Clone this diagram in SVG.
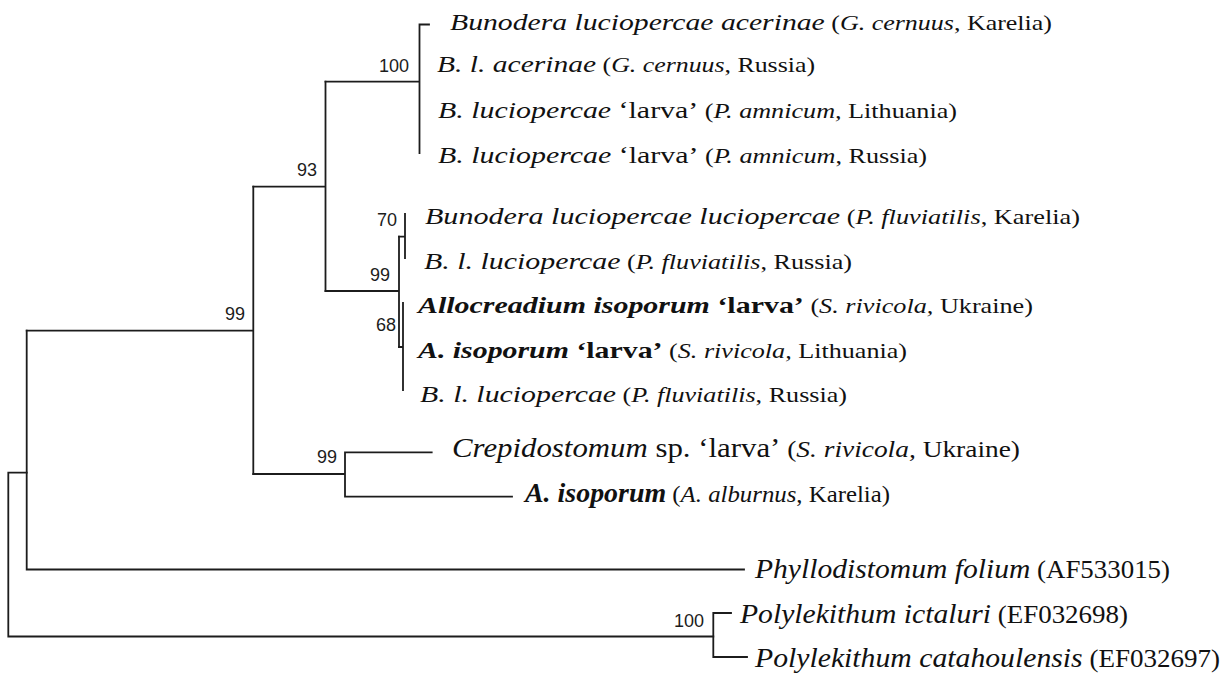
<svg xmlns="http://www.w3.org/2000/svg" width="1229" height="676" viewBox="0 0 1229 676">
<style>
.bg{fill:#ffffff}
.br{fill:none;stroke:#1c1c1c;stroke-width:1.8;stroke-linecap:square}
.bs{font-family:"Liberation Sans",Arial,sans-serif;font-size:18px;fill:#1c1c1c;text-anchor:end}
.t{font-family:"Liberation Serif","Times New Roman",serif;fill:#111111}
.up{font-size:24px}
.lo{font-size:27px}
.lo2{font-size:27.5px}
.sm{font-size:21px}
.sm2{font-size:24px}
.sm3{font-size:25px}
.i{font-style:italic}
.b{font-weight:bold}
</style>
<rect class="bg" x="0" y="0" width="1229" height="676"/>
<g id="connectors">
<path class="br" d="M429,24.5 H419.5 V153 M325.5,81.7 H419.5"/>
<path class="br" d="M325.5,81.7 V291 M253.3,186.7 H325.5"/>
<path class="br" d="M325.5,291 H399 M399,236.7 V347"/>
<path class="br" d="M399,236.7 H405 M405,214 V258"/>
<path class="br" d="M399,347 H403 M403,303 V390"/>
<path class="br" d="M253.3,186.7 V474 M26.7,330.7 H253.3"/>
<path class="br" d="M253.3,474 H345 M345,452.3 V496.7 M345,452.3 H431.7 M345,496.7 H512"/>
<path class="br" d="M26.7,330.7 V569.5 M26.7,569.5 H744"/>
<path class="br" d="M8.3,472.7 H26.7 M8.3,472.7 V636.5 M8.3,636.5 H713.3"/>
<path class="br" d="M713.3,613 V657 M713.3,613 H731 M713.3,657 H747"/>
</g>
<g id="support">
<text class="bs" x="409" y="72">100</text>
<text class="bs" x="317" y="176">93</text>
<text class="bs" x="397" y="226">70</text>
<text class="bs" x="390" y="281">99</text>
<text class="bs" x="396" y="331">68</text>
<text class="bs" x="245" y="320">99</text>
<text class="bs" x="337" y="463">99</text>
<text class="bs" x="704" y="627">100</text>
</g>
<g id="taxon1"><text class="t up" x="450" y="29.5" textLength="602" lengthAdjust="spacingAndGlyphs"><tspan class="i">Bunodera luciopercae acerinae</tspan><tspan class="sm"> (<tspan class="i">G. cernuus</tspan>, Karelia)</tspan></text></g>
<g id="taxon2"><text class="t up" x="437" y="72" textLength="378" lengthAdjust="spacingAndGlyphs"><tspan class="i">B. l. acerinae</tspan><tspan class="sm"> (<tspan class="i">G. cernuus</tspan>, Russia)</tspan></text></g>
<g id="taxon3"><text class="t up" x="438" y="117.5" textLength="519" lengthAdjust="spacingAndGlyphs"><tspan class="i">B. luciopercae</tspan> ‘larva’<tspan class="sm"> (<tspan class="i">P. amnicum,</tspan> Lithuania)</tspan></text></g>
<g id="taxon4"><text class="t up" x="438" y="162.5" textLength="489" lengthAdjust="spacingAndGlyphs"><tspan class="i">B. luciopercae</tspan> ‘larva’<tspan class="sm"> (<tspan class="i">P. amnicum</tspan>, Russia)</tspan></text></g>
<g id="taxon5"><text class="t up" x="425" y="224" textLength="655" lengthAdjust="spacingAndGlyphs"><tspan class="i">Bunodera luciopercae luciopercae</tspan><tspan class="sm"> (<tspan class="i">P. fluviatilis</tspan>, Karelia)</tspan></text></g>
<g id="taxon6"><text class="t up" x="424" y="269" textLength="428" lengthAdjust="spacingAndGlyphs"><tspan class="i">B. l. luciopercae</tspan><tspan class="sm"> (<tspan class="i">P. fluviatilis</tspan>, Russia)</tspan></text></g>
<g id="taxon7"><text class="t up" x="418" y="313" textLength="615" lengthAdjust="spacingAndGlyphs"><tspan class="i b">Allocreadium isoporum</tspan><tspan class="b"> ‘larva’</tspan><tspan class="sm"> (<tspan class="i">S. rivicola,</tspan> Ukraine)</tspan></text></g>
<g id="taxon8"><text class="t up" x="418" y="358" textLength="489" lengthAdjust="spacingAndGlyphs"><tspan class="i b">A. isoporum</tspan><tspan class="b">  ‘larva’</tspan><tspan class="sm"> (<tspan class="i">S. rivicola,</tspan> Lithuania)</tspan></text></g>
<g id="taxon9"><text class="t up" x="420" y="401.5" textLength="427" lengthAdjust="spacingAndGlyphs"><tspan class="i">B. l. luciopercae</tspan><tspan class="sm"> (<tspan class="i">P. fluviatilis</tspan>, Russia)</tspan></text></g>
<g id="taxon10"><text class="t lo" x="452" y="457" textLength="568" lengthAdjust="spacingAndGlyphs"><tspan class="i">Crepidostomum</tspan> sp. ‘larva’<tspan class="sm2"> (<tspan class="i">S. rivicola,</tspan> Ukraine)</tspan></text></g>
<g id="taxon11"><text class="t lo" x="525" y="501.5" textLength="365" lengthAdjust="spacingAndGlyphs"><tspan class="i b">A. isoporum</tspan><tspan class="sm2"> (<tspan class="i">A. alburnus</tspan>, Karelia)</tspan></text></g>
<g id="taxon12"><text class="t lo2" x="755" y="578" textLength="415" lengthAdjust="spacingAndGlyphs"><tspan class="i">Phyllodistomum folium</tspan><tspan class="sm3"> (AF533015)</tspan></text></g>
<g id="taxon13"><text class="t lo2" x="740" y="623" textLength="388" lengthAdjust="spacingAndGlyphs"><tspan class="i">Polylekithum ictaluri</tspan><tspan class="sm3"> (EF032698)</tspan></text></g>
<g id="taxon14"><text class="t lo2" x="755" y="666.5" textLength="465" lengthAdjust="spacingAndGlyphs"><tspan class="i">Polylekithum catahoulensis</tspan><tspan class="sm3"> (EF032697)</tspan></text></g>
</svg>
